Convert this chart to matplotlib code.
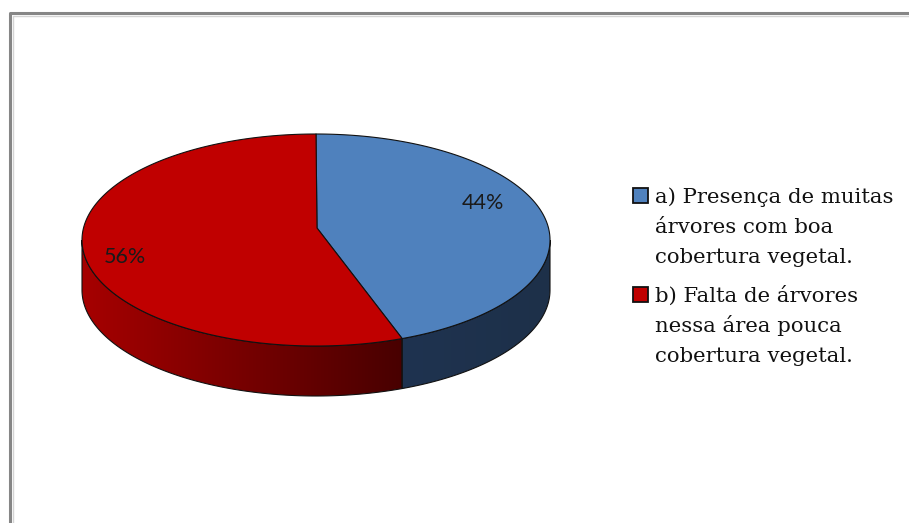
import numpy as np
import matplotlib
matplotlib.use("Agg")
import matplotlib.pyplot as plt
from matplotlib.patches import Polygon, Rectangle
from matplotlib.colors import to_rgb

# Survey answers (share of respondents)
labels = [
    "a) Presença de muitas\nárvores com boa\ncobertura vegetal.",
    "b) Falta de árvores\nnessa área pouca\ncobertura vegetal.",
]
values = [44, 56]
value_labels = ["44%", "56%"]
top_colors = ["#4F81BD", "#C00000"]
side_colors = [("#1F3350", "#1D3049"), ("#A60000", "#480000")]

W, H = 909, 523
fig = plt.figure(figsize=(W / 100, H / 100), dpi=100)
ax = fig.add_axes([0, 0, 1, 1])
ax.set_xlim(0, W)
ax.set_ylim(H, 0)
ax.axis("off")

# chart frame
ax.plot([10, 10, W + 5], [H + 5, 13, 13], color="#868686", lw=2.2, solid_capstyle="butt")
ax.plot([12.5, 12.5, W + 5], [H + 5, 15.5, 15.5], color="#D4D4D4", lw=1.0, solid_capstyle="butt")

# pie geometry (pixel units)
cx, cy = 316, 240       # centre of the top ellipse
a, b = 234, 106         # semi axes
depth = 50              # thickness of the disc
apex = (317, 228)       # where the slices meet on the top face
edge = "#111111"


def pt(theta):
    """Point on the top rim, theta in degrees clockwise from 12 o'clock."""
    t = np.radians(theta)
    return cx + a * np.sin(t), cy - b * np.cos(t)


fracs = np.array(values, dtype=float) / sum(values)
bounds = np.concatenate([[0], np.cumsum(fracs) * 360])

# side walls (front half only: 90..270 degrees), shaded left to right
for i in range(len(values)):
    t0, t1 = max(bounds[i], 90), min(bounds[i + 1], 270)
    if t1 <= t0:
        continue
    seg = np.linspace(t0, t1, 300)
    top = [pt(t) for t in seg]
    bot = [(x, y + depth) for x, y in top[::-1]]
    wall = Polygon(top + bot, closed=True, facecolor="none",
                   edgecolor=edge, lw=0.8, zorder=3)
    ax.add_patch(wall)
    xs = [p[0] for p in top]
    x0, x1 = min(xs), max(xs)
    y0 = min(p[1] for p in top)
    y1 = max(p[1] for p in bot)
    # colour ramp runs from the left edge of the wall to its right edge
    c_l, c_r = np.array(to_rgb(side_colors[i][0])), np.array(to_rgb(side_colors[i][1]))
    f = np.linspace(0, 1, 256)[None, :, None]
    ramp = c_l * (1 - f) + c_r * f
    im = ax.imshow(ramp, extent=(x0, x1, y1, y0), aspect="auto",
                   interpolation="bilinear", zorder=2)
    im.set_clip_path(wall)

# top faces
for i in range(len(values)):
    seg = np.linspace(bounds[i], bounds[i + 1], 300)
    poly = [apex] + [pt(t) for t in seg]
    ax.add_patch(Polygon(poly, closed=True, facecolor=top_colors[i],
                         edgecolor=edge, lw=0.8, zorder=4, joinstyle="round"))

# percentage labels
label_pos = [(483, 203), (125, 257)]
for (x, y), txt in zip(label_pos, value_labels):
    ax.text(x, y, txt, ha="center", va="center", fontsize=15.5,
            family="Lato", color="#1A1A1A", zorder=6)

# legend
leg_x = 633
baselines = [203, 301.5]
line_h = 30
for i, lab in enumerate(labels):
    base = baselines[i]
    ax.add_patch(Rectangle((leg_x, base - 15), 15, 15, facecolor=top_colors[i],
                           edgecolor="#111111", lw=1.3, zorder=6))
    for k, line in enumerate(lab.split("\n")):
        ax.text(leg_x + 22, base + k * line_h, line, ha="left", va="baseline",
                fontsize=15.3, family="DejaVu Serif", color="#111111", zorder=6)

fig.savefig("out.png", dpi=100)
